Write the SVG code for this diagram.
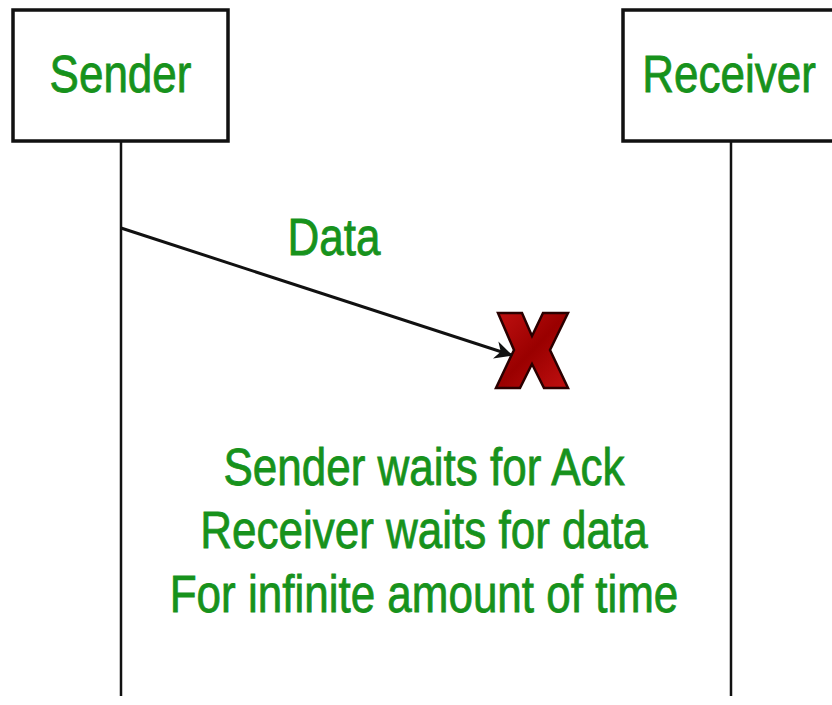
<svg xmlns="http://www.w3.org/2000/svg" width="832" height="705" viewBox="0 0 832 705">
  <defs>
    <style>
      .box { fill: #ffffff; stroke: #111111; stroke-width: 3.5; }
      .life { stroke: #111111; stroke-width: 2.5; fill: none; }
      .lbl { font-family: "Liberation Sans", Arial, sans-serif; font-size: 44px; fill: #17921c; stroke: #17921c; stroke-width: 0.7; text-anchor: middle; }
      .msg { stroke: #111111; stroke-width: 3; fill: none; }
    </style>
    <marker id="arrow" viewBox="0 0 10 10" refX="9" refY="5" markerWidth="6" markerHeight="6" markerUnits="strokeWidth" orient="auto">
      <path d="M0,0 L10,5 L0,10 L3,5 Z" fill="#111111"/>
    </marker>
    <linearGradient id="xfill" x1="0" y1="0" x2="1" y2="1">
      <stop offset="0" stop-color="#c01010"/>
      <stop offset="0.5" stop-color="#9a0000"/>
      <stop offset="1" stop-color="#c01010"/>
    </linearGradient>
  </defs>
  <rect width="832" height="705" fill="#ffffff"/>

  <g id="sender">
    <rect class="box" x="13" y="10" width="215" height="131"/>
    <line class="life" x1="121" y1="141" x2="121" y2="696"/>
    <text class="lbl" transform="translate(120.5,92) scale(1,1.18)">Sender</text>
  </g>

  <g id="receiver">
    <rect class="box" x="623" y="10" width="215" height="131"/>
    <line class="life" x1="731" y1="141" x2="731" y2="696"/>
    <text class="lbl" transform="translate(729,92) scale(1,1.18)">Receiver</text>
  </g>

  <g id="lost-mark">
    <polygon points="498,313 522,313 532,336 543,313 568,313 550,350 568,388 544,388 532,364 520,388 496,388 514,350" fill="url(#xfill)" stroke="#2a0000" stroke-width="2.5" stroke-linejoin="miter"/>
  </g>

  <g id="note">
    <text class="lbl" transform="translate(424,485) scale(1,1.18)">Sender waits for Ack</text>
    <text class="lbl" transform="translate(424,548) scale(1,1.18)">Receiver waits for data</text>
    <text class="lbl" transform="translate(424,612) scale(1,1.18)">For infinite amount of time</text>
  </g>

  <g id="connectors">
    <line class="msg" x1="121" y1="228" x2="511" y2="355" marker-end="url(#arrow)"/>
    <text class="lbl" transform="translate(334,255) scale(1,1.18)">Data</text>
  </g>
</svg>
